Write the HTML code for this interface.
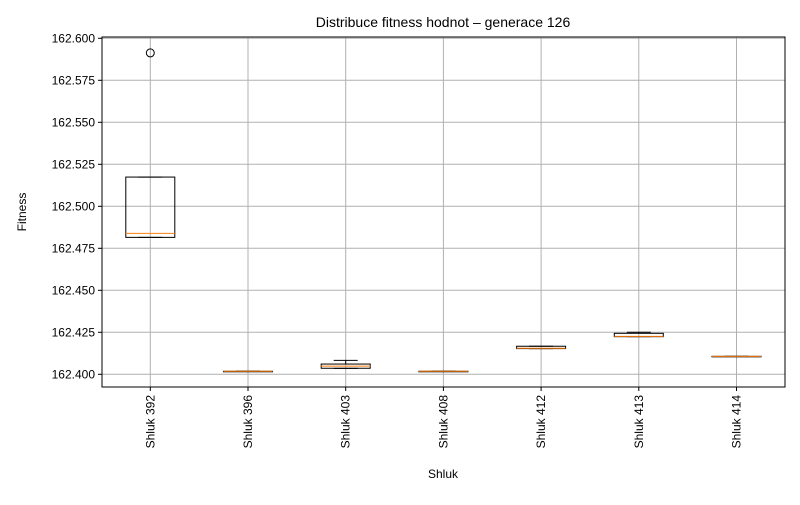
<!DOCTYPE html>
<html><head><meta charset="utf-8"><style>
body{margin:0;background:#fff}
svg{font-family:"Liberation Sans","DejaVu Sans",sans-serif}
</style></head><body>
<svg id="c" width="800" height="500"></svg>
<script>
const categories=["Shluk 392","Shluk 396","Shluk 403","Shluk 408","Shluk 412","Shluk 413","Shluk 414"];
const whiskerLow=[162.4815,162.4018,162.4035,162.4018,162.4153,162.4224,162.4107];
const q1=[162.4815,162.4018,162.4036,162.4018,162.4153,162.4224,162.4107];
const medians=[162.4839,162.4018,162.4049,162.4018,162.4155,162.4226,162.4107];
const q3=[162.5174,162.4018,162.4061,162.4018,162.4167,162.4244,162.4107];
const whiskerHigh=[162.5174,162.4018,162.4083,162.4018,162.4167,162.4250,162.4107];
const outliers=[[162.5913],[],[],[],[],[],[]];
const yTicks=[162.400,162.425,162.450,162.475,162.500,162.525,162.550,162.575,162.600];
const L=102,R=785,T=37,B=387;
const y=v=>374.3-(v-162.4)*1680;
const x=i=>150.3+i*97.7;
const s=document.getElementById('c');
const NS='http://www.w3.org/2000/svg';
function mk(t,a,p){const e=document.createElementNS(NS,t);for(const k in a)e.setAttribute(k,a[k]);(p||s).appendChild(e);return e;}
let e;
e=mk('text',{x:443,y:27,'text-anchor':'middle','font-size':14});e.textContent='Distribuce fitness hodnot – generace 126';


yTicks.forEach(v=>{
 e=mk('line',{x1:L,x2:R,y1:y(v),y2:y(v),stroke:'#b0b0b0','stroke-width':1});
 
 
 mk('line',{x1:L-4,x2:L,y1:y(v),y2:y(v),stroke:'#000'});
 e=mk('text',{x:L-7,y:y(v)+4,'text-anchor':'end','font-size':12});e.textContent=v.toFixed(3);
 
 
});
categories.forEach((c,i)=>{
 const cx=x(i);
 e=mk('line',{x1:cx,x2:cx,y1:T,y2:B,stroke:'#b0b0b0'});
 
 
 mk('line',{x1:cx,x2:cx,y1:B,y2:B+4,stroke:'#000'});
 e=mk('text',{transform:`translate(${cx+4},${B+8}) rotate(-90)`,'text-anchor':'end','font-size':12});e.textContent=c;
 
 
 const g=mk('g',{});
 
 
 const hw=24.5,cw=12;
 mk('line',{x1:cx,x2:cx,y1:y(whiskerHigh[i]),y2:y(q3[i]),stroke:'#000'},g);
 mk('line',{x1:cx,x2:cx,y1:y(q1[i]),y2:y(whiskerLow[i]),stroke:'#000'},g);
 mk('line',{x1:cx-cw,x2:cx+cw,y1:y(whiskerHigh[i]),y2:y(whiskerHigh[i]),stroke:'#000'},g);
 mk('line',{x1:cx-cw,x2:cx+cw,y1:y(whiskerLow[i]),y2:y(whiskerLow[i]),stroke:'#000'},g);
 mk('rect',{x:cx-hw,y:y(q3[i]),width:2*hw,height:Math.max(0.5,y(q1[i])-y(q3[i])),fill:'none',stroke:'#000'},g);
 mk('line',{x1:cx-hw,x2:cx+hw,y1:y(medians[i]),y2:y(medians[i]),stroke:'#ff7f0e'},g);
 outliers[i].forEach(o=>{
  e=mk('circle',{cx:cx,cy:y(o),r:4,fill:'none',stroke:'#000'},g);
  
  
 });
});
e=mk('rect',{x:L,y:T,width:R-L,height:B-T,fill:'none',stroke:'#000'});


e=mk('text',{x:443,y:478,'text-anchor':'middle','font-size':12});e.textContent='Shluk';


e=mk('text',{transform:'translate(26,212) rotate(-90)','text-anchor':'middle','font-size':12});e.textContent='Fitness';


</script>
</body></html>
